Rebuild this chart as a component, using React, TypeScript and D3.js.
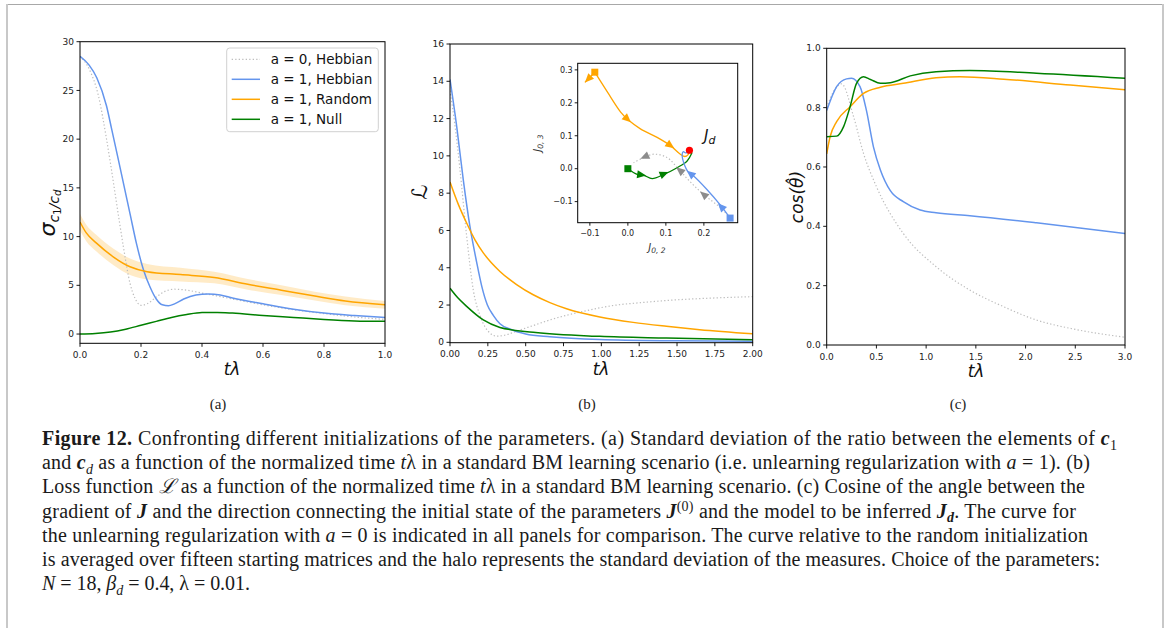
import React from "react";
import * as d3 from "d3";

// ---------- Panel (a): sigma_{c1/cd} ----------
const aGrayX = [0, 0.03, 0.06, 0.087, 0.1, 0.12, 0.142, 0.164, 0.18, 0.2, 0.22, 0.25, 0.28, 0.31, 0.35, 0.4, 0.5, 0.6, 0.7, 0.8, 0.9, 1.0];
const aGrayY = [28.5, 27.2, 24.5, 20, 17.5, 13.4, 9, 5.2, 3.7, 2.95, 3.1, 3.8, 4.4, 4.6, 4.5, 4.2, 3.6, 3.0, 2.5, 2.1, 1.75, 1.5];
const aBlueX = [0, 0.03, 0.055, 0.087, 0.104, 0.125, 0.145, 0.165, 0.185, 0.208, 0.23, 0.25, 0.27, 0.29, 0.31, 0.34, 0.38, 0.42, 0.46, 0.5, 0.6, 0.7, 0.8, 0.9, 1.0];
const aBlueY = [28.5, 27.6, 26.3, 23.4, 21.0, 18.0, 15.1, 12.2, 9.3, 6.6, 4.8, 3.6, 3.0, 2.9, 3.1, 3.6, 4.0, 4.1, 4.0, 3.7, 3.1, 2.55, 2.15, 1.9, 1.7];
const aOrangeX = [0, 0.02, 0.055, 0.11, 0.164, 0.22, 0.33, 0.44, 0.55, 0.66, 0.77, 0.87, 1.0];
const aOrangeY = [11.5, 10.4, 9.3, 7.9, 6.9, 6.4, 6.1, 5.8, 5.1, 4.5, 3.9, 3.4, 3.0];
const aOrangeSd = [0.85, 0.85, 0.85, 0.85, 0.85, 0.8, 0.7, 0.6, 0.55, 0.5, 0.45, 0.45, 0.4];
const aGreenX = [0, 0.05, 0.1, 0.15, 0.2, 0.25, 0.3, 0.35, 0.4, 0.45, 0.5, 0.6, 0.7, 0.8, 0.9, 1.0];
const aGreenY = [0, 0.05, 0.2, 0.5, 0.9, 1.3, 1.7, 2.0, 2.2, 2.22, 2.15, 1.9, 1.7, 1.5, 1.35, 1.3];
const aXTicks = [0, 0.2, 0.4, 0.6, 0.8, 1.0];
const aYTicks = [0, 5, 10, 15, 20, 25, 30];

// ---------- Panel (b): loss ----------
const bBlueX = [0, 0.044, 0.088, 0.132, 0.176, 0.21, 0.247, 0.286, 0.33, 0.4, 0.5, 0.66, 0.99, 1.5, 2.0];
const bBlueY = [14.1, 11.6, 8.7, 6.2, 4.3, 3.0, 2.0, 1.45, 1.0, 0.7, 0.45, 0.3, 0.15, 0.08, 0.05];
const bGrayX = [0, 0.03, 0.066, 0.11, 0.154, 0.2, 0.264, 0.31, 0.37, 0.44, 0.55, 0.66, 0.88, 1.1, 1.25, 1.5, 1.75, 2.0];
const bGrayY = [13.5, 11.8, 9.25, 5.7, 2.8, 1.4, 0.5, 0.33, 0.4, 0.6, 0.9, 1.2, 1.66, 2.0, 2.12, 2.28, 2.38, 2.45];
const bOrangeX = [0, 0.055, 0.11, 0.165, 0.22, 0.33, 0.44, 0.55, 0.66, 0.77, 0.99, 1.21, 1.43, 1.65, 2.0];
const bOrangeY = [8.6, 7.4, 6.4, 5.5, 4.8, 3.8, 3.1, 2.55, 2.13, 1.8, 1.36, 1.07, 0.86, 0.68, 0.46];
const bGreenX = [0, 0.05, 0.11, 0.22, 0.33, 0.55, 0.99, 1.43, 2.0];
const bGreenY = [2.9, 2.4, 1.93, 1.2, 0.8, 0.54, 0.32, 0.23, 0.14];
const bXTicks = [0, 0.25, 0.5, 0.75, 1.0, 1.25, 1.5, 1.75, 2.0];
const bYTicks = [0, 2, 4, 6, 8, 10, 12, 14, 16];

// ---------- Inset: trajectories in (J02, J03) ----------
const insOrange: [number, number][] = [[-0.087, 0.293], [-0.054, 0.233], [-0.019, 0.172], [0.003, 0.146], [0.033, 0.121], [0.077, 0.095], [0.112, 0.07], [0.138, 0.044], [0.15, 0.037], [0.158, 0.042], [0.163, 0.054]];
const insGreen: [number, number][] = [[0, 0], [0.0245, -0.017], [0.042, -0.02], [0.064, -0.03], [0.0945, -0.0174], [0.1295, 0.003], [0.156, 0.0235], [0.169, 0.049]];
const insBlue: [number, number][] = [[0.269, -0.15], [0.243, -0.11], [0.208, -0.063], [0.173, -0.022], [0.16, -0.012], [0.147, 0.018], [0.143, 0.045], [0.146, 0.052], [0.152, 0.048], [0.16, 0.05]];
const insGray: [number, number][] = [[0.269, -0.15], [0.25, -0.125], [0.195, -0.074], [0.16, -0.035], [0.134, -0.002], [0.103, 0.034], [0.068, 0.044], [0.042, 0.034], [0.015, 0.018]];
const insOrangeStartArrow: [number, number][] = [[-0.087, 0.293], [-0.113, 0.262]];
const insArrowsOrange: [number, number][][] = [[[-0.087, 0.293], [-0.113, 0.262]], [[-0.01, 0.16], [0.008, 0.141]], [[0.1, 0.08], [0.122, 0.062]]];
const insArrowsGreen: [number, number][][] = [[[0.03, -0.018], [0.048, -0.021]], [[0.09, -0.018], [0.107, -0.01]]];
const insArrowsBlue: [number, number][][] = [[[0.255, -0.127], [0.237, -0.105]], [[0.172, -0.022], [0.155, -0.006]]];
const insArrowsGray: [number, number][][] = [[[0.207, -0.086], [0.19, -0.069]], [[0.142, -0.01], [0.127, 0.004]], [[0.052, 0.04], [0.033, 0.03]]];
const insTarget: [number, number] = [0.162, 0.056];
const insXTicks = [-0.1, 0, 0.1, 0.2];
const insYTicks = [-0.1, 0, 0.1, 0.2, 0.3];

// ---------- Panel (c): cos(theta) ----------
const cBlueX = [0, 0.1, 0.2, 0.25, 0.335, 0.4, 0.47, 0.54, 0.64, 0.77, 0.94, 1.1, 1.44, 2.11, 3.0];
const cBlueY = [0.79, 0.871, 0.897, 0.899, 0.871, 0.79, 0.668, 0.59, 0.52, 0.483, 0.455, 0.446, 0.436, 0.412, 0.376];
const cGrayX = [0, 0.07, 0.15, 0.27, 0.37, 0.5, 0.77, 1.1, 1.44, 1.78, 2.11, 2.45, 3.0];
const cGrayY = [0.8, 0.855, 0.88, 0.77, 0.646, 0.534, 0.376, 0.264, 0.185, 0.129, 0.084, 0.056, 0.026];
const cOrangeX = [0, 0.034, 0.1, 0.235, 0.37, 0.54, 0.77, 1.1, 1.34, 1.78, 2.45, 3.0];
const cOrangeY = [0.644, 0.702, 0.753, 0.803, 0.848, 0.869, 0.882, 0.901, 0.904, 0.896, 0.876, 0.86];
const cGreenX = [0, 0.1, 0.17, 0.235, 0.3, 0.37, 0.44, 0.54, 0.64, 0.84, 1.1, 1.44, 2.11, 3.0];
const cGreenY = [0.702, 0.704, 0.736, 0.803, 0.882, 0.904, 0.895, 0.882, 0.884, 0.907, 0.921, 0.925, 0.916, 0.899];
const cXTicks = [0, 0.5, 1.0, 1.5, 2.0, 2.5, 3.0];
const cYTicks = [0, 0.2, 0.4, 0.6, 0.8, 1.0];

const legendLabels = ["a = 0, Hebbian", "a = 1, Hebbian", "a = 1, Random", "a = 1, Null"];

const BLUE = "#6495ED";
const ORANGE = "#FFA500";
const GREEN = "#008000";
const GRAYD = "#bdbdbd";
const TICKF = "DejaVu Sans, sans-serif";
const SERIF = "Liberation Serif, Times New Roman, serif";

const zip = (xs: number[], ys: number[]): [number, number][] => xs.map((x, i) => [x, ys[i]]);
const minus = (s: string) => s.replace("-", "\u2212");

type Ser = { pts: [number, number][]; color: string; dotted?: boolean };

function Panel(props: {
  id: string;
  x0: number; x1: number; y0: number; y1: number;
  xd: [number, number]; yd: [number, number];
  xt: number[]; yt: number[]; xf: string; yf: string;
  series: Ser[];
  band?: { x: number[]; lo: number[]; hi: number[]; color: string };
  fs?: number;
  children?: React.ReactNode;
}) {
  const { x0, x1, y0, y1 } = props;
  const xs = d3.scaleLinear().domain(props.xd).range([x0, x1]);
  const ys = d3.scaleLinear().domain(props.yd).range([y1, y0]);
  const fs = props.fs ?? 9;
  const line = d3.line<[number, number]>().x((d) => xs(d[0])).y((d) => ys(d[1])).curve(d3.curveMonotoneX);
  const fx = d3.format(props.xf);
  const fy = d3.format(props.yf);
  let bandPath = "";
  if (props.band) {
    const b = props.band;
    const area = d3
      .area<number>()
      .x((_, i) => xs(b.x[i]))
      .y0((_, i) => ys(b.lo[i]))
      .y1((_, i) => ys(b.hi[i]))
      .curve(d3.curveMonotoneX);
    bandPath = area(b.x) || "";
  }
  return (
    <g>
      <defs>
        <clipPath id={props.id}>
          <rect x={x0} y={y0} width={x1 - x0} height={y1 - y0} />
        </clipPath>
      </defs>
      <g clipPath={`url(#${props.id})`}>
        {props.band && <path d={bandPath} fill={props.band.color} fillOpacity={0.22} stroke="none" />}
        {props.series.map((s, i) => (
          <path
            key={i}
            d={line(s.pts) || ""}
            fill="none"
            stroke={s.color}
            strokeWidth={s.dotted ? 1.2 : 1.5}
            strokeDasharray={s.dotted ? "1.3,2.2" : undefined}
          />
        ))}
      </g>
      <rect x={x0} y={y0} width={x1 - x0} height={y1 - y0} fill="none" stroke="#000" strokeWidth={1} />
      {props.xt.map((t) => (
        <g key={"x" + t}>
          <line x1={xs(t)} x2={xs(t)} y1={y1} y2={y1 + 3.5} stroke="#000" strokeWidth={0.9} />
          <text x={xs(t)} y={y1 + 5.5 + fs} fontSize={fs} fontFamily={TICKF} textAnchor="middle" fill="#222">
            {minus(fx(t))}
          </text>
        </g>
      ))}
      {props.yt.map((t) => (
        <g key={"y" + t}>
          <line x1={x0 - 3.5} x2={x0} y1={ys(t)} y2={ys(t)} stroke="#000" strokeWidth={0.9} />
          <text x={x0 - 6} y={ys(t)} dy="0.35em" fontSize={fs} fontFamily={TICKF} textAnchor="end" fill="#222">
            {minus(fy(t))}
          </text>
        </g>
      ))}
      {props.children}
    </g>
  );
}

function Arrow({ from, to, xs, ys, color }: any) {
  const x2 = xs(to[0]), y2 = ys(to[1]);
  const x1 = xs(from[0]), y1 = ys(from[1]);
  const a = Math.atan2(y2 - y1, x2 - x1);
  const L = 9, Wd = 4;
  const bx = x2 - L * Math.cos(a), by = y2 - L * Math.sin(a);
  const px = -Math.sin(a) * Wd, py = Math.cos(a) * Wd;
  return <path d={`M${x2},${y2}L${bx + px},${by + py}L${bx - px},${by - py}Z`} fill={color} />;
}

function Inset() {
  const x0 = 577.7, x1 = 737.7, y0 = 63.3, y1 = 222.7;
  const xs = d3.scaleLinear().domain([-0.132, 0.289]).range([x0, x1]);
  const ys = d3.scaleLinear().domain([-0.164, 0.32]).range([y1, y0]);
  const line = d3.line<[number, number]>().x((d) => xs(d[0])).y((d) => ys(d[1])).curve(d3.curveCatmullRom);
  const fmt = d3.format(".1f");
  const sq = (p: [number, number], c: string) => (
    <rect x={xs(p[0]) - 3.5} y={ys(p[1]) - 3.5} width={7} height={7} fill={c} />
  );
  return (
    <g>
      <rect x={x0} y={y0} width={x1 - x0} height={y1 - y0} fill="#fff" stroke="#000" strokeWidth={1} />
      <path d={line(insGray) || ""} fill="none" stroke={GRAYD} strokeWidth={1.2} strokeDasharray="1.3,2.2" />
      <path d={line(insOrange) || ""} fill="none" stroke={ORANGE} strokeWidth={1.3} />
      <path d={line(insOrangeStartArrow) || ""} fill="none" stroke={ORANGE} strokeWidth={1.3} />
      <path d={line(insGreen) || ""} fill="none" stroke={GREEN} strokeWidth={1.3} />
      <path d={line(insBlue) || ""} fill="none" stroke={BLUE} strokeWidth={1.3} />
      {insArrowsGray.map((a, i) => <Arrow key={"g" + i} from={a[0]} to={a[1]} xs={xs} ys={ys} color="#8c8c8c" />)}
      {insArrowsOrange.map((a, i) => <Arrow key={"o" + i} from={a[0]} to={a[1]} xs={xs} ys={ys} color={ORANGE} />)}
      {insArrowsGreen.map((a, i) => <Arrow key={"n" + i} from={a[0]} to={a[1]} xs={xs} ys={ys} color={GREEN} />)}
      {insArrowsBlue.map((a, i) => <Arrow key={"b" + i} from={a[0]} to={a[1]} xs={xs} ys={ys} color={BLUE} />)}
      {sq(insOrange[0], ORANGE)}
      {sq(insGreen[0], GREEN)}
      {sq(insBlue[0], BLUE)}
      <circle cx={xs(insTarget[0])} cy={ys(insTarget[1])} r={3.6} fill="#ff0000" />
      <text x={704} y={141} fontSize={15} fontStyle="italic" fontFamily={TICKF} fill="#111">
        J<tspan fontSize={11} dy={3}>d</tspan>
      </text>
      {insXTicks.map((t) => (
        <g key={"ix" + t}>
          <line x1={xs(t)} x2={xs(t)} y1={y1} y2={y1 + 3} stroke="#000" strokeWidth={0.9} />
          <text x={xs(t)} y={y1 + 13} fontSize={8} fontFamily={TICKF} textAnchor="middle" fill="#222">
            {minus(fmt(t))}
          </text>
        </g>
      ))}
      {insYTicks.map((t) => (
        <g key={"iy" + t}>
          <line x1={x0 - 3} x2={x0} y1={ys(t)} y2={ys(t)} stroke="#000" strokeWidth={0.9} />
          <text x={x0 - 5} y={ys(t)} dy="0.35em" fontSize={8} fontFamily={TICKF} textAnchor="end" fill="#222">
            {minus(fmt(t))}
          </text>
        </g>
      ))}
      <text x={657} y={251} fontSize={10} fontStyle="italic" fontFamily={TICKF} textAnchor="middle" fill="#333">
        J<tspan fontSize={7.5} dy={2}>0, 2</tspan>
      </text>
      <text transform="translate(541,143) rotate(-90)" fontSize={10} fontStyle="italic" fontFamily={TICKF} textAnchor="middle" fill="#333">
        J<tspan fontSize={7.5} dy={2}>0, 3</tspan>
      </text>
    </g>
  );
}

type Seg = { t: string; b?: boolean; i?: boolean; sub?: boolean; sup?: boolean };
const captionLines: Seg[][] = [
  [{ t: "Figure 12.", b: true }, { t: " Confronting different initializations of the parameters. (a) Standard deviation of the ratio between the elements of " }, { t: "c", b: true, i: true }, { t: "1", sub: true }],
  [{ t: "and " }, { t: "c", b: true, i: true }, { t: "d", sub: true, i: true }, { t: " as a function of the normalized time " }, { t: "t", i: true }, { t: "λ in a standard BM learning scenario (i.e. unlearning regularization with " }, { t: "a", i: true }, { t: " = 1). (b)" }],
  [{ t: "Loss function " }, { t: "ℒ", i: true }, { t: " as a function of the normalized time " }, { t: "t", i: true }, { t: "λ in a standard BM learning scenario. (c) Cosine of the angle between the" }],
  [{ t: "gradient of " }, { t: "J", b: true, i: true }, { t: " and the direction connecting the initial state of the parameters " }, { t: "J", b: true, i: true }, { t: "(0)", sup: true }, { t: " and the model to be inferred " }, { t: "J", b: true, i: true }, { t: "d", sub: true, i: true, b: true }, { t: ". The curve for" }],
  [{ t: "the unlearning regularization with " }, { t: "a", i: true }, { t: " = 0 is indicated in all panels for comparison. The curve relative to the random initialization" }],
  [{ t: "is averaged over fifteen starting matrices and the halo represents the standard deviation of the measures. Choice of the parameters:" }],
  [{ t: "N", i: true }, { t: " = 18, " }, { t: "β", i: true }, { t: "d", sub: true, i: true }, { t: " = 0.4, λ = 0.01." }],
];
const captionEnds = [1117, 1090, 1085, 1076, 1088, 1100, 250];

function CaptionLine({ segs, y, end }: { segs: Seg[]; y: number; end: number }) {
  let off = 0;
  const x = 42;
  return (
    <text x={x} y={y} fontSize={20} fontFamily={SERIF} fill="#1a1a1a" textLength={end - x} lengthAdjust="spacing">
      {segs.map((s, k) => {
        const target = s.sub ? 4.5 : s.sup ? -7 : 0;
        const dy = target - off;
        off = target;
        return (
          <tspan
            key={k}
            dy={dy}
            fontWeight={s.b ? "bold" : "normal"}
            fontStyle={s.i ? "italic" : "normal"}
            fontSize={s.sub || s.sup ? 14 : undefined}
          >
            {s.t}
          </tspan>
        );
      })}
    </text>
  );
}

export default function App() {
  const legendColors = [GRAYD, BLUE, ORANGE, GREEN];
  return (
    <svg width={1167} height={628} style={{ position: "absolute", left: 0, top: 0, background: "#fff" }}>
      <rect x={0} y={0} width={1167} height={628} fill="#fff" />
      {/* frame */}
      <line x1={7} x2={1163} y1={4.5} y2={4.5} stroke="#a8a8a8" strokeWidth={1} />
      <line x1={7} x2={7} y1={4} y2={628} stroke="#c8c8c8" strokeWidth={2} />
      <line x1={1163} x2={1163} y1={4} y2={628} stroke="#c8c8c8" strokeWidth={2} />

      {/* Panel a */}
      <Panel
        id="ca" x0={80} x1={385} y0={41.7} y1={343.3} xd={[0, 1]} yd={[-0.95, 30]}
        xt={aXTicks} yt={aYTicks} xf=".1f" yf="d"
        band={{ x: aOrangeX, lo: aOrangeY.map((v, i) => v - aOrangeSd[i]), hi: aOrangeY.map((v, i) => v + aOrangeSd[i]), color: ORANGE }}
        series={[
          { pts: zip(aGrayX, aGrayY), color: GRAYD, dotted: true },
          { pts: zip(aBlueX, aBlueY), color: BLUE },
          { pts: zip(aOrangeX, aOrangeY), color: ORANGE },
          { pts: zip(aGreenX, aGreenY), color: GREEN },
        ]}
      >
        <rect x={226.7} y={48} width={151.6} height={83.7} rx={3} fill="#fff" fillOpacity={0.85} stroke="#d0d0d0" strokeWidth={1} />
        {legendLabels.map((l, i) => (
          <g key={l}>
            <line x1={231.7} x2={260} y1={59.3 + 20 * i} y2={59.3 + 20 * i} stroke={legendColors[i]} strokeWidth={i === 0 ? 1.2 : 1.5} strokeDasharray={i === 0 ? "1.3,2.2" : undefined} />
            <text x={270.7} y={59.3 + 20 * i} dy="0.36em" fontSize={13.5} fontFamily={TICKF} fill="#111">{l}</text>
          </g>
        ))}
      </Panel>
      <text transform="translate(55,213) rotate(-90)" fontFamily={TICKF} textAnchor="middle" fill="#111">
        <tspan fontSize={22} fontStyle="italic">σ</tspan>
        <tspan fontSize={14} fontStyle="italic" dy={4}>c</tspan>
        <tspan fontSize={10} dy={2}>1</tspan>
        <tspan fontSize={14} fontStyle="italic" dy={-2}>/c</tspan>
        <tspan fontSize={10} fontStyle="italic" dy={2}>d</tspan>
      </text>
      <text x={232} y={375} fontSize={17} fontStyle="italic" fontFamily={TICKF} textAnchor="middle" fill="#111">tλ</text>
      <text x={218} y={409} fontSize={15} fontFamily={SERIF} textAnchor="middle" fill="#222">(a)</text>

      {/* Panel b */}
      <Panel
        id="cb" x0={450} x1={752.7} y0={44} y1={342.7} xd={[0, 2]} yd={[-0.02, 16]}
        xt={bXTicks} yt={bYTicks} xf=".2f" yf="d"
        series={[
          { pts: zip(bGrayX, bGrayY), color: GRAYD, dotted: true },
          { pts: zip(bBlueX, bBlueY), color: BLUE },
          { pts: zip(bOrangeX, bOrangeY), color: ORANGE },
          { pts: zip(bGreenX, bGreenY), color: GREEN },
        ]}
      >
        <Inset />
      </Panel>
      <text transform="translate(427,192) rotate(-90)" fontSize={21} fontStyle="italic" fontFamily={TICKF} textAnchor="middle" fill="#111">ℒ</text>
      <text x={601} y={375} fontSize={17} fontStyle="italic" fontFamily={TICKF} textAnchor="middle" fill="#111">tλ</text>
      <text x={587} y={409} fontSize={15} fontFamily={SERIF} textAnchor="middle" fill="#222">(b)</text>

      {/* Panel c */}
      <Panel
        id="cc" x0={826.7} x1={1125} y0={48.3} y1={345} xd={[0, 3]} yd={[0, 1]}
        xt={cXTicks} yt={cYTicks} xf=".1f" yf=".1f"
        series={[
          { pts: zip(cGrayX, cGrayY), color: GRAYD, dotted: true },
          { pts: zip(cBlueX, cBlueY), color: BLUE },
          { pts: zip(cOrangeX, cOrangeY), color: ORANGE },
          { pts: zip(cGreenX, cGreenY), color: GREEN },
        ]}
      />
      <text transform="translate(803,197) rotate(-90)" fontSize={17} fontStyle="italic" fontFamily={TICKF} textAnchor="middle" fill="#111">cos(θ̂)</text>
      <text x={976} y={377} fontSize={17} fontStyle="italic" fontFamily={TICKF} textAnchor="middle" fill="#111">tλ</text>
      <text x={958} y={409} fontSize={15} fontFamily={SERIF} textAnchor="middle" fill="#222">(c)</text>

      {/* Caption */}
      {captionLines.map((segs, i) => (
        <CaptionLine key={i} segs={segs} y={445 + 24.2 * i} end={captionEnds[i]} />
      ))}
    </svg>
  );
}
